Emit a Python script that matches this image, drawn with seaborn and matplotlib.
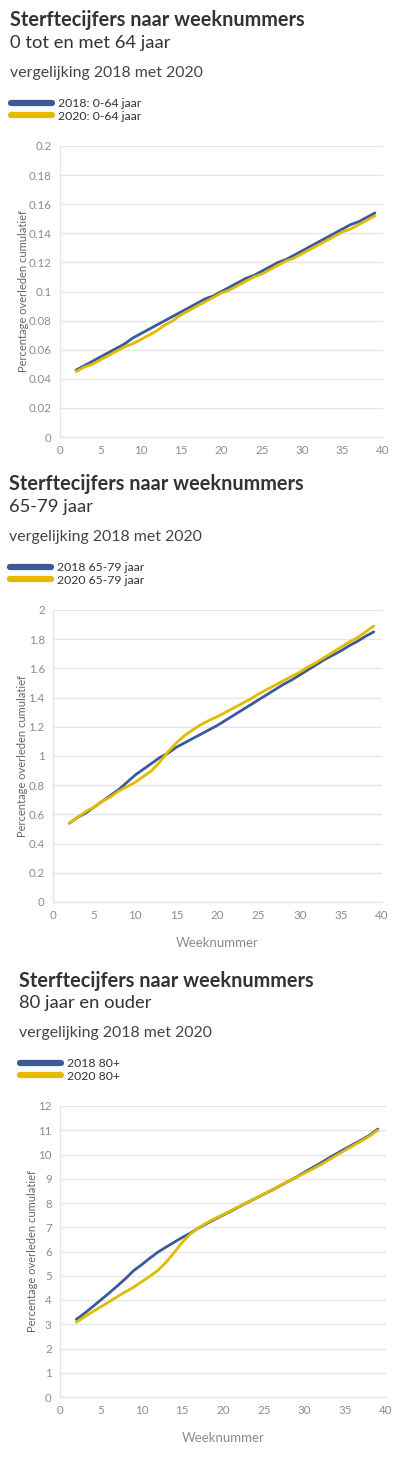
import seaborn as sns
import pandas as pd
import numpy as np
import matplotlib.pyplot as plt
from matplotlib.lines import Line2D

weeks = list(range(2, 40))

# 0-64 jaar
jong_2018 = [0.046, 0.049, 0.052, 0.055, 0.058, 0.061, 0.064, 0.068, 0.071, 0.074,
             0.077, 0.080, 0.083, 0.086, 0.089, 0.092, 0.095, 0.097, 0.100, 0.103,
             0.106, 0.109, 0.111, 0.114, 0.117, 0.120, 0.122, 0.125, 0.128, 0.131,
             0.134, 0.137, 0.140, 0.143, 0.146, 0.148, 0.151, 0.154]
jong_2020 = [0.045, 0.048, 0.050, 0.053, 0.056, 0.059, 0.062, 0.064, 0.067, 0.070,
             0.073, 0.077, 0.080, 0.084, 0.087, 0.090, 0.093, 0.096, 0.099, 0.101,
             0.104, 0.107, 0.110, 0.112, 0.115, 0.118, 0.121, 0.123, 0.126, 0.129,
             0.132, 0.135, 0.138, 0.141, 0.143, 0.146, 0.149, 0.152]

# 65-79 jaar
midden_2018 = [0.54, 0.58, 0.61, 0.65, 0.69, 0.73, 0.77, 0.82, 0.87, 0.91,
               0.95, 0.99, 1.02, 1.06, 1.09, 1.12, 1.15, 1.18, 1.21, 1.245,
               1.28, 1.315, 1.35, 1.385, 1.42, 1.455, 1.49, 1.52, 1.555, 1.59,
               1.625, 1.66, 1.69, 1.72, 1.755, 1.785, 1.82, 1.85]
midden_2020 = [0.54, 0.58, 0.62, 0.65, 0.69, 0.72, 0.76, 0.79, 0.82, 0.86,
               0.90, 0.96, 1.03, 1.09, 1.14, 1.18, 1.215, 1.245, 1.27, 1.30,
               1.33, 1.36, 1.39, 1.425, 1.455, 1.485, 1.515, 1.545, 1.575, 1.61,
               1.64, 1.675, 1.71, 1.745, 1.78, 1.81, 1.85, 1.89]

# 80+
oud_2018 = [3.2, 3.45, 3.72, 4.0, 4.28, 4.57, 4.87, 5.2, 5.45, 5.72,
            5.97, 6.18, 6.38, 6.58, 6.76, 6.97, 7.15, 7.33, 7.5, 7.67,
            7.85, 8.02, 8.19, 8.36, 8.53, 8.71, 8.89, 9.07, 9.27, 9.46,
            9.65, 9.86, 10.05, 10.24, 10.42, 10.6, 10.8, 11.05]
oud_2020 = [3.08, 3.3, 3.52, 3.72, 3.92, 4.13, 4.33, 4.52, 4.75, 4.97,
            5.22, 5.55, 5.95, 6.38, 6.72, 6.98, 7.18, 7.36, 7.52, 7.69,
            7.86, 8.03, 8.2, 8.37, 8.54, 8.72, 8.89, 9.06, 9.23, 9.4,
            9.58, 9.78, 9.98, 10.18, 10.37, 10.56, 10.76, 11.0]

BLAUW = '#3d5a98'
GEEL = '#e0bb00'
TEKST = '#333333'
GRIJS = '#8c8c8c'
LIJN = '#e6e6e6'

W, H = 397, 1458
sns.set_style("white")
plt.rcParams['font.family'] = ['Lato', 'DejaVu Sans']

fig = plt.figure(figsize=(W / 100, H / 100), dpi=100)

panels = [
    dict(sub='0 tot en met 64 jaar', labels=['2018: 0-64 jaar', '2020: 0-64 jaar'],
         data=(jong_2018, jong_2020), ylim=0.2, ystep=0.02,
         box=(60, 383, 146, 437), tx=10, ty=(20, 43, 73, 104, 118), xlab=False),
    dict(sub='65-79 jaar', labels=['2018 65-79 jaar', '2020 65-79 jaar'],
         data=(midden_2018, midden_2020), ylim=2, ystep=0.2,
         box=(53, 382, 610, 902), tx=9, ty=(484, 507, 537, 568, 583), xlab=True),
    dict(sub='80 jaar en ouder', labels=['2018 80+', '2020 80+'],
         data=(oud_2018, oud_2020), ylim=12, ystep=1,
         box=(60, 386, 1106, 1397), tx=19, ty=(981, 1003, 1033, 1064, 1078), xlab=True),
]

for p in panels:
    l, r, t, b = p['box']
    ax = fig.add_axes([l / W, 1 - b / H, (r - l) / W, (b - t) / H])
    df = pd.DataFrame({
        'week': weeks * 2,
        'waarde': list(p['data'][0]) + list(p['data'][1]),
        'reeks': [p['labels'][0]] * len(weeks) + [p['labels'][1]] * len(weeks),
    })
    sns.lineplot(data=df, x='week', y='waarde', hue='reeks', ax=ax,
                 palette={p['labels'][0]: BLAUW, p['labels'][1]: GEEL},
                 linewidth=2.0, legend=False)
    ax.set_xlim(0, 40)
    ax.set_ylim(0, p['ylim'])
    ax.set_xticks(range(0, 41, 5))
    yt = np.round(np.arange(0, p['ylim'] + p['ystep'] / 2, p['ystep']), 2)
    ax.set_yticks(yt)
    ax.set_yticklabels([('%g' % v) for v in yt])
    ax.yaxis.grid(True, color=LIJN, linewidth=1)
    ax.xaxis.grid(False)
    for s in ['top', 'right']:
        ax.spines[s].set_visible(False)
    for s in ['left', 'bottom']:
        ax.spines[s].set_color(LIJN)
        ax.spines[s].set_linewidth(1)
    ax.tick_params(axis='both', colors=LIJN, labelcolor=GRIJS, labelsize=8.3,
                   length=4, width=1, pad=2)
    ax.set_ylabel('Percentage overleden cumulatief', color='#666666', fontsize=8, labelpad=0)
    if p['xlab']:
        ax.set_xlabel('Weeknummer', color=GRIJS, fontsize=9.5, labelpad=11)
    else:
        ax.set_xlabel('')

    tx = p['tx'] / W
    ty = [1 - v / H for v in p['ty']]
    fig.text(tx, ty[0], 'Sterftecijfers naar weeknummers', fontsize=14.3,
             fontweight='bold', color=TEKST, va='center')
    fig.text(tx, ty[1], p['sub'], fontsize=13.2, color=TEKST, va='center')
    fig.text(tx, ty[2], 'vergelijking 2018 met 2020', fontsize=11.4, color='#444444', va='center')

    handles = [Line2D([0], [0], color=c, lw=4.5, solid_capstyle='round') for c in (BLAUW, GEEL)]
    fig.legend(handles, p['labels'], loc='upper left',
               bbox_to_anchor=(tx - 4 / W, ty[3] + 11 / H), frameon=False,
               fontsize=8.8, handlelength=3.4, handletextpad=0.45,
               labelspacing=0.15, borderaxespad=0, labelcolor=TEKST)

fig.savefig('out.png', dpi=100)
